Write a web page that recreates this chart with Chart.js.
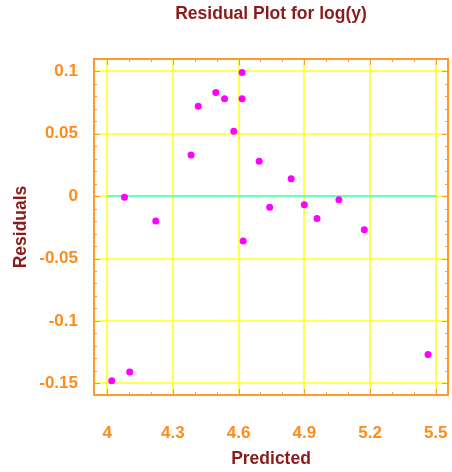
<!DOCTYPE html>
<html>
<head>
<meta charset="utf-8">
<script src="https://cdn.jsdelivr.net/npm/chart.js"></script>
<style>
  html, body { margin: 0; padding: 0; background: #fff; }
  #wrap { width: 452px; height: 472px; }
</style>
</head>
<body>
<div id="wrap"><canvas id="residualChart" width="452" height="472"></canvas></div>
<script>
// predicted values and residuals
const predicted = [4.021, 4.079, 4.103, 4.222, 4.383, 4.416, 4.496, 4.536, 4.578, 4.616,
                   4.616, 4.621, 4.694, 4.742, 4.840, 4.900, 4.958, 5.058, 5.174, 5.465];
const residuals = [-0.148, -0.001, -0.141, -0.020, 0.033, 0.072, 0.083, 0.078, 0.052, 0.099,
                   0.078, -0.036, 0.028, -0.009, 0.014, -0.007, -0.018, -0.003, -0.027, -0.127];
const xTicks = [4, 4.3, 4.6, 4.9, 5.2, 5.5];
const yTicks = [-0.15, -0.1, -0.05, 0, 0.05, 0.1];
const zeroLineX = [4, 5.5];
const chartTitle = 'Residual Plot for log(y)';

const ORANGE = '#ff9a2e';
const LABEL = '#ff8c1a';
const DARKRED = '#8b1a1a';
const GRID = '#ffff22';
const FONT = '"Liberation Sans", Arial, sans-serif';

// yellow grid at the labelled ticks
const yellowGrid = {
    id: 'yellowGrid',
    beforeDatasetsDraw(chart) {
        const { ctx, chartArea: a, scales } = chart;
        ctx.save();
        ctx.strokeStyle = GRID;
        ctx.lineWidth = 1.6;
        ctx.beginPath();
        xTicks.forEach(v => {
            const px = Math.round(scales.x.getPixelForValue(v));
            ctx.moveTo(px, a.top); ctx.lineTo(px, a.bottom);
        });
        yTicks.forEach(v => {
            const py = Math.round(scales.y.getPixelForValue(v));
            ctx.moveTo(a.left, py); ctx.lineTo(a.right, py);
        });
        ctx.stroke();
        ctx.restore();
    }
};

// inward tick marks + full frame + title centred on the plot area
const frameTicks = {
    id: 'frameTicks',
    afterDraw(chart) {
        const { ctx, chartArea: a, scales } = chart;
        const xs = scales.x, ys = scales.y;
        ctx.save();
        ctx.strokeStyle = ORANGE;
        ctx.lineWidth = 1;
        ctx.beginPath();
        // x ticks every 0.1, major every 0.3
        for (let i = 40; i <= 55; i++) {
            const px = Math.round(xs.getPixelForValue(i / 10)) + 0.5;
            const len = (i - 40) % 3 === 0 ? 6 : 3;
            ctx.moveTo(px, a.bottom); ctx.lineTo(px, a.bottom - len);
            ctx.moveTo(px, a.top); ctx.lineTo(px, a.top + len);
        }
        // y ticks every 0.01, major every 0.05
        for (let j = -15; j <= 10; j++) {
            const py = Math.round(ys.getPixelForValue(j / 100)) + 0.5;
            const len = j % 5 === 0 ? 6 : 3;
            ctx.moveTo(a.left, py); ctx.lineTo(a.left + len, py);
            ctx.moveTo(a.right, py); ctx.lineTo(a.right - len, py);
        }
        ctx.stroke();
        ctx.lineWidth = 2;
        ctx.strokeRect(a.left, a.top, a.right - a.left, a.bottom - a.top);

        ctx.fillStyle = DARKRED;
        ctx.font = 'bold 17.5px ' + FONT;
        ctx.textAlign = 'center';
        ctx.textBaseline = 'middle';
        ctx.fillText(chartTitle, (a.left + a.right) / 2, 14);
        ctx.restore();
    }
};

const ctx = document.getElementById('residualChart').getContext('2d');
new Chart(ctx, {
    type: 'scatter',
    data: {
        datasets: [
            {
                label: 'zero',
                type: 'line',
                data: zeroLineX.map(x => ({ x: x, y: 0 })),
                borderColor: '#66ffbb',
                borderWidth: 2,
                pointRadius: 0,
                order: 2
            },
            {
                label: 'Residuals',
                data: predicted.map((x, i) => ({ x: x, y: residuals[i] })),
                backgroundColor: '#ff00ff',
                borderColor: '#ff00ff',
                pointRadius: 3.5,
                borderWidth: 0,
                order: 1
            }
        ]
    },
    options: {
        responsive: false,
        animation: false,
        layout: { padding: { top: 59, left: 0, right: 3, bottom: 0 } },
        plugins: {
            legend: { display: false },
            tooltip: { enabled: false },
            title: { display: false }
        },
        scales: {
            x: {
                type: 'linear',
                min: 3.94,
                max: 5.556,
                afterBuildTicks: s => { s.ticks = xTicks.map(v => ({ value: v })); },
                afterFit: s => { s.height = 77; s.paddingLeft = 0; s.paddingRight = 0; },
                grid: { display: false },
                border: { display: false },
                ticks: {
                    color: LABEL,
                    padding: 20,
                    maxRotation: 0,
                    font: { family: FONT, size: 17, weight: 'bold' },
                    callback: v => String(v)
                },
                title: {
                    display: true,
                    text: 'Predicted',
                    color: DARKRED,
                    font: { family: FONT, size: 17.5, weight: 'bold' },
                    padding: { top: 0, bottom: 2.5 }
                }
            },
            y: {
                type: 'linear',
                min: -0.1594,
                max: 0.1099,
                afterBuildTicks: s => { s.ticks = yTicks.map(v => ({ value: v })); },
                afterFit: s => { s.width = 94; s.paddingTop = 0; s.paddingBottom = 0; },
                grid: { display: false },
                border: { display: false },
                ticks: {
                    color: LABEL,
                    padding: 8,
                    font: { family: FONT, size: 17, weight: 'bold' },
                    callback: v => String(Math.round(v * 100) / 100)
                },
                title: {
                    display: true,
                    text: 'Residuals',
                    color: DARKRED,
                    font: { family: FONT, size: 17.5, weight: 'bold' },
                    padding: { top: 11, bottom: 0 }
                }
            }
        }
    },
    plugins: [yellowGrid, frameTicks]
});
</script>
</body>
</html>
